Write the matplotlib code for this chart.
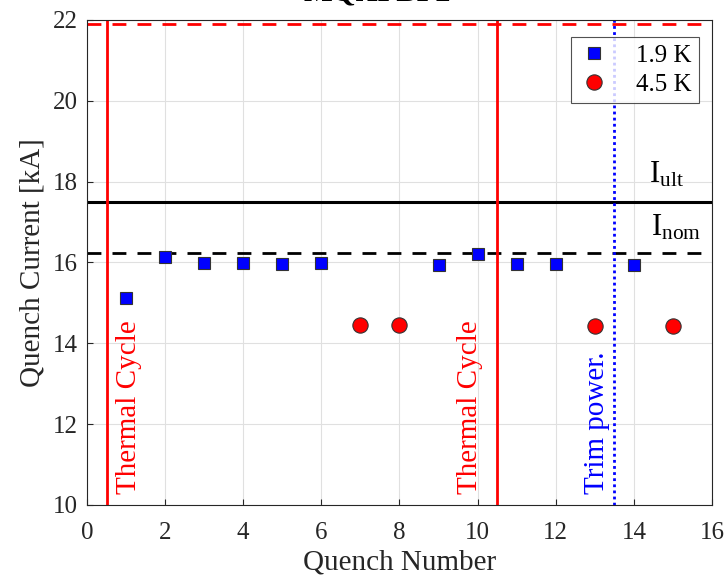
import matplotlib.pyplot as plt
import numpy as np

plt.rcParams['font.family'] = ['Liberation Serif', 'DejaVu Serif']
plt.rcParams['mathtext.fontset'] = 'custom'
plt.rcParams['mathtext.rm'] = 'Liberation Serif'
plt.rcParams['mathtext.it'] = 'Liberation Serif'

# quench data
q_19 = [1, 2, 3, 4, 5, 6, 9, 10, 11, 12, 14]
i_19 = [15.12, 16.13, 15.99, 15.99, 15.96, 15.99, 15.95, 16.22, 15.97, 15.97, 15.95]
q_45 = [7, 8, 13, 15]
i_45 = [14.45, 14.45, 14.42, 14.42]

i_ult = 17.5
i_nom = 16.23
i_top = 21.9
thermal_cycles = [0.5, 10.5]
thermal_text_x = [1.07, 9.8]
trim_power = 13.5

fig = plt.figure(figsize=(7.26, 5.78), dpi=100)
ax = fig.add_axes([0.1198, 0.1263, 0.8609, 0.8391])

ax.grid(True, color='#e0e0e0', linewidth=0.8)
ax.set_axisbelow(True)

ax.axhline(i_top, color='red', linestyle=(0, (5, 4)), linewidth=2)
ax.axhline(i_ult, color='black', linewidth=2.2)
ax.axhline(i_nom, color='black', linestyle=(0, (5, 4)), linewidth=2)
for xc, xt in zip(thermal_cycles, thermal_text_x):
    ax.axvline(xc, color='red', linewidth=2)
    ax.text(xt, 10.28, 'Thermal Cycle', color='red', rotation=90,
            ha='center', va='bottom', fontsize=21)
ax.axvline(trim_power, color='blue', linestyle=(0, (1, 1.2)), linewidth=2)
ax.text(13.05, 10.28, 'Trim power.', color='blue', rotation=90,
        ha='center', va='bottom', fontsize=21)

ax.text(14.4, 17.98, r'I$_{\mathrm{ult}}$', fontsize=22, ha='left', va='baseline')
ax.text(14.45, 16.67, r'I$_{\mathrm{nom}}$', fontsize=22, ha='left', va='baseline')

ax.plot(q_19, i_19, 's', markersize=8.5, markerfacecolor='blue',
        markeredgecolor='#333333', markeredgewidth=0.8, label='1.9 K')
ax.plot(q_45, i_45, 'o', markersize=11, markerfacecolor='red',
        markeredgecolor='#333333', markeredgewidth=0.8, label='4.5 K')

ax.set_xlim(0, 16)
ax.set_ylim(10, 22)
ax.set_xticks(np.arange(0, 17, 2))
ax.set_yticks(np.arange(10, 23, 2))
ax.tick_params(direction='in', labelsize=18, length=4, width=0.8, colors='#262626')
ax.tick_params(axis='x', pad=12.5)
ax.tick_params(axis='y', pad=6.5)
for s in ax.spines.values():
    s.set_color('#262626')
    s.set_linewidth(0.8)

ax.set_xlabel('Quench Number', fontsize=21, color='#262626', labelpad=4)
ax.set_ylabel('Quench Current [kA]', fontsize=21, color='#262626', labelpad=5.5)

leg = ax.legend(loc='upper right', bbox_to_anchor=(0.98, 0.965), fontsize=18,
                frameon=True, fancybox=False, edgecolor='#262626',
                handlelength=1.2, handletextpad=1.1, borderpad=0.3,
                labelspacing=0.25, borderaxespad=0)
leg.get_frame().set_linewidth(0.8)

fig.text(0.52, 1.013, 'MQXFBP2', fontsize=22, fontweight='bold', ha='center', va='center')

fig.savefig('out.png', dpi=100)
